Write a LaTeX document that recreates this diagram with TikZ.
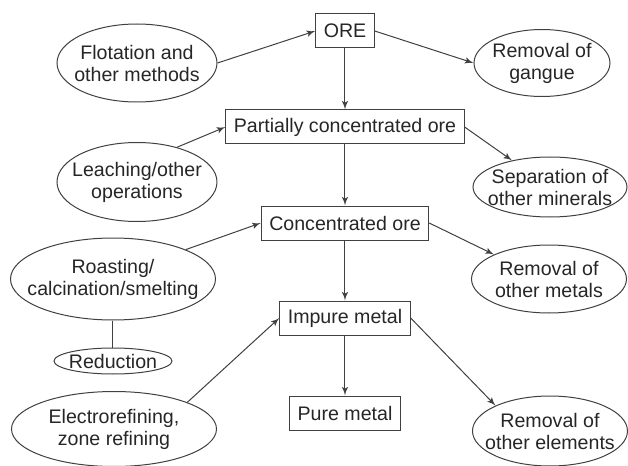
\documentclass[tikz,border=0pt]{standalone}
\usepackage{fontspec}
\setmainfont{Liberation Sans}
\usepackage{tikz}
\usetikzlibrary{shapes,arrows}
\tikzstyle{line} = [draw=black!75, line width=0.5pt, -latex']
\tikzstyle{link} = [draw=black!75, line width=0.5pt]
\tikzstyle{stage} = [rectangle, draw=black!75, line width=0.5pt, inner xsep=4pt, inner ysep=0pt, minimum height=17pt, node distance=48pt]
\tikzstyle{process} = [ellipse, draw=black!75, line width=0.5pt, inner xsep=-8pt, inner ysep=0pt, align=center]

\begin{document}
\begin{tikzpicture}[every node/.style={text=black!85, font=\fontsize{9.8}{11}\selectfont}]
	\useasboundingbox (-172.5pt,-217.5pt) rectangle (141.5pt,15.5pt);
	
	\node [stage] (ore) {ORE};
	\node [stage, below of = ore] (partial) {Partially concentrated ore};
	\node [stage, below of = partial] (conc) {Concentrated ore};
	\node [stage, below of = conc, node distance = 47.5pt] (impure) {Impure metal};
	\node [stage, below of = impure, node distance = 47.5pt] (pure) {Pure metal};
	
	\node [process, left of = ore, node distance = 104pt, yshift=-16pt, minimum width=80pt, minimum height=39pt] (flot) {Flotation and\\other methods};
	\node [process, right of = ore, node distance = 98.5pt, yshift=-16pt, minimum width=68pt, minimum height=33.5pt] (gangue) {Removal of\\gangue};
	
	\node [process, left of = partial, node distance = 104pt, yshift=-27.5pt, minimum width=80pt, minimum height=39.5pt] (leach) {Leaching/other\\operations};
	\node [process, right of = partial, node distance = 102.5pt, yshift=-30pt, minimum width=77pt, minimum height=30pt] (sep) {Separation of\\other minerals};
	
	\node [process, left of = conc, node distance = 116pt, yshift=-28pt, minimum width=102.5pt, minimum height=41pt] (roast) {Roasting/\\calcination/smelting};
	\node [process, right of = conc, node distance = 102pt, yshift=-28pt, minimum width=77.5pt, minimum height=34pt] (metals) {Removal of\\other metals};
	\node [process, below of = roast, node distance = 41pt, minimum width=59pt, minimum height=13pt] (reduc) {Reduction};
	
	\node [process, left of = impure, node distance = 115.5pt, yshift=-55.5pt, minimum width=102.5pt, minimum height=37.5pt] (electro) {Electrorefining,\\zone refining};
	\node [process, right of = impure, node distance = 102.5pt, yshift=-56.5pt, minimum width=77.5pt, minimum height=35pt] (elements) {Removal of\\other elements};
	
	\path [line] (flot.east) -- (ore.west);
	\path [line] (ore.east) -- (gangue.west);
	\path [line] (ore) -- (partial);
	\path [line] (leach.41) -- (partial.west);
	\path [line] (partial.east) -- (sep.145);
	\path [line] (partial) -- (conc);
	\path [line] (roast.22) -- (conc.west);
	\path [line] (conc.east) -- (metals.156);
	\path [line] (conc) -- (impure);
	\path [link] (roast) -- (reduc);
	\path [line] (electro.20) -- (impure.west);
	\path [line] (impure.east) -- (elements.155);
	\path [line] (impure) -- (pure);
\end{tikzpicture}
\end{document}
